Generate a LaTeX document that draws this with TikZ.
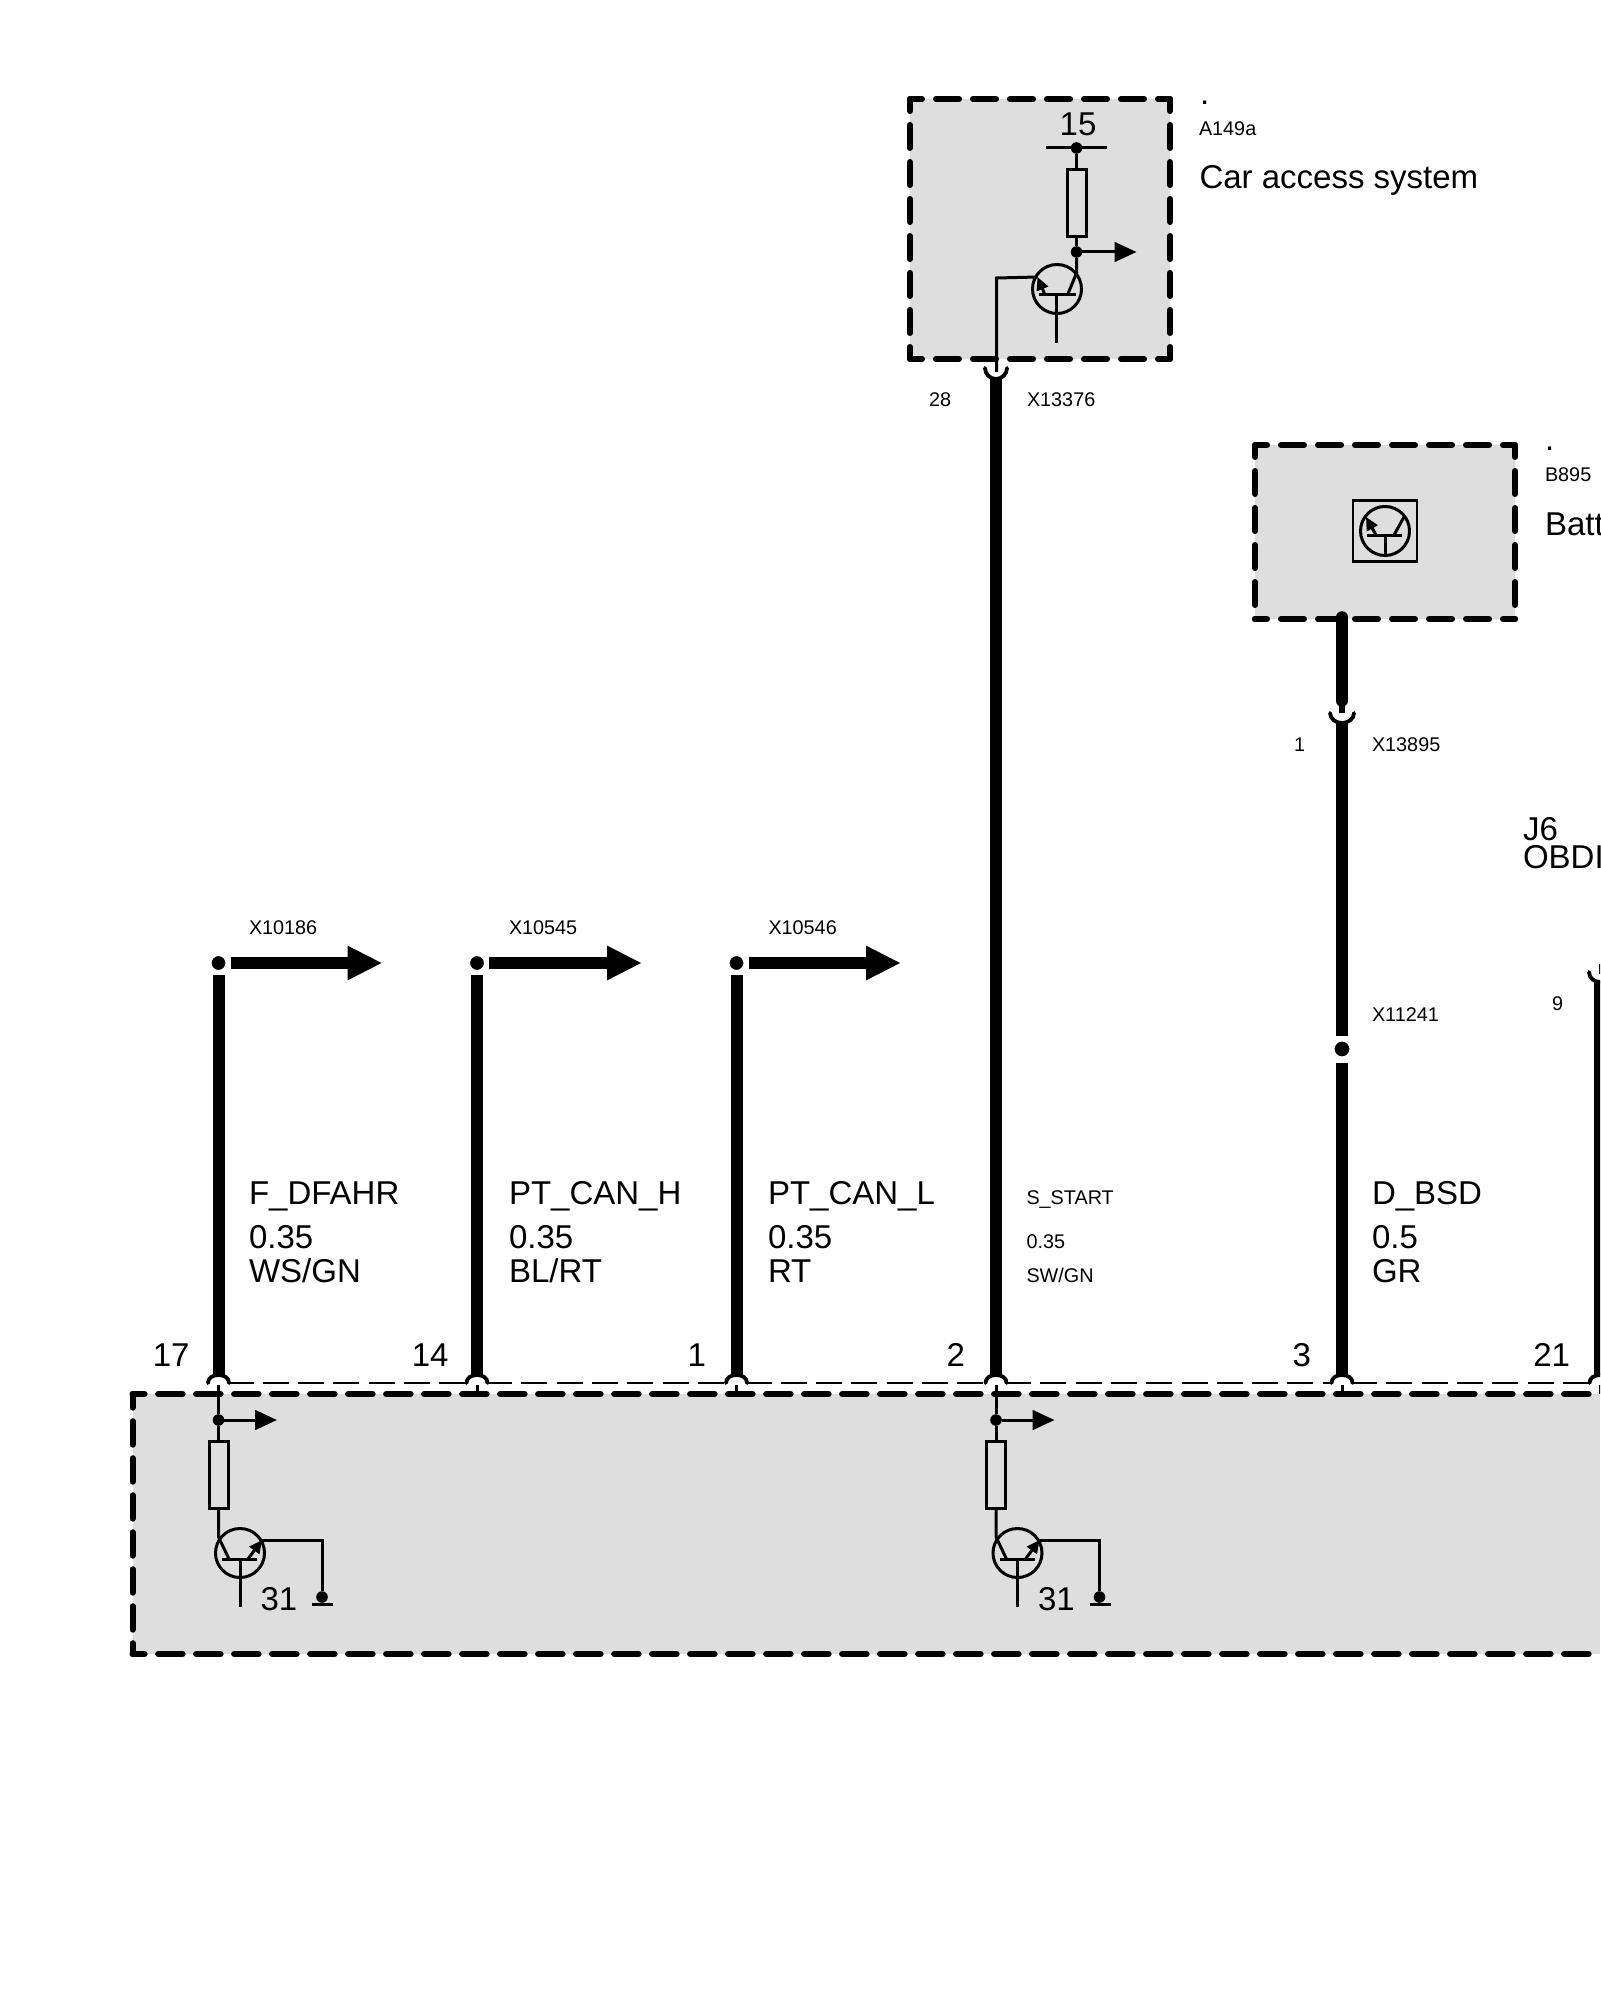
\documentclass[tikz,border=0pt]{standalone}
\usepackage{fontspec}
\setmainfont{Liberation Sans}
\usetikzlibrary{arrows.meta,calc}
\definecolor{boxgray}{HTML}{DEDEDE}
\tikzset{
  tbig/.style={inner sep=0pt,outer sep=0pt,anchor=base west,font=\fontsize{16.5}{14}\selectfont},
  tsmall/.style={inner sep=0pt,outer sep=0pt,anchor=base west,font=\fontsize{9.9}{9.9}\selectfont},
  tpin/.style={inner sep=0pt,outer sep=0pt,anchor=base east,font=\fontsize{16.5}{16.5}\selectfont},
  boxfill/.style={fill=boxgray,inner sep=0pt,outer sep=0pt,anchor=north west},
  boxline/.style={line width=3pt,line cap=round,line join=round,dash pattern=on 11.5pt off 7pt,dash phase=5.5pt},
  mainh/.style={line width=3pt,line cap=round,dash pattern=on 12.25pt off 6.75pt,dash phase=6.2pt},
  mainv/.style={line width=3pt,line cap=round,dash pattern=on 11.75pt off 6.75pt,dash phase=4.9pt},
  busline/.style={line width=1.4pt,dash pattern=on 13pt off 4.65pt,dash phase=1pt},
  thick wire/.style={line width=6pt},
  thin wire/.style={line width=1.5pt},
  cupline/.style={line width=1.9pt,line cap=round},
  junction/.style={circle,fill=black,draw=white,line width=2.5pt,minimum size=9.5pt,inner sep=0pt},
  smalldot/.style={circle,fill=black,minimum size=5.8pt,inner sep=0pt,outer sep=0pt},
  resistor/.style={rectangle,draw,line width=1.5pt,inner sep=0pt,minimum width=9.5pt,minimum height=33.5pt},
  bigarrow/.style={thick wire,-{Triangle[length=17.5pt,width=16pt]}},
  smallarrow/.style={thin wire,-{Triangle[length=11pt,width=9.8pt]}},
  emitarrow/.style={thin wire,-{Triangle[length=6.5pt,width=6pt]}},
  trcircle/.style={circle,draw,line width=1.5pt,inner sep=0pt,minimum size=24.5pt},
}
\begin{document}
\begin{tikzpicture}[x=0.5pt,y=-0.5pt]
\useasboundingbox (0,0) rectangle (1600,2000);
\clip (0,0) rectangle (1600,2000);
\fill[white] (0,0) rectangle (1600,2000);

%% ---- gray boxes
\node[boxfill,minimum width=130pt,minimum height=130pt] (boxA) at (910,99) {};
\node[boxfill,minimum width=130pt,minimum height=87pt] (boxB) at (1255,445) {};
\node[boxfill,minimum width=733.75pt,minimum height=130pt] (boxM) at (132.5,1394) {};

\draw[boxline] (boxA.north west) -- (boxA.north east);
\draw[boxline] (boxA.north west) -- (boxA.south west);
\draw[boxline] (boxA.north east) -- (boxA.south east);
\draw[boxline] (boxA.south west) -- (boxA.south east);
\draw[boxline] (boxB.north west) -- (boxB.north east);
\draw[boxline] (boxB.north west) -- (boxB.south west);
\draw[boxline] (boxB.north east) -- (boxB.south east);
\draw[boxline] (boxB.south west) -- (boxB.south east);
\draw[mainh] (boxM.north west) -- (boxM.north east);
\draw[mainh] (boxM.south west) -- (boxM.south east);
\draw[mainv] (boxM.north west) -- (boxM.south west);

%% ---- pins on the main box
\foreach \n/\x in {17/218.5,14/477,1/736.5,2/996,3/1342,21/1600}{
  \coordinate (p\n) at (\x,1383);
  \coordinate (b\n) at (\x,1394);
  \draw[cupline] (\x-10.5,1383) .. controls (\x-10.5,1378) and (\x-6,1375) .. (\x,1375)
     .. controls (\x+6,1375) and (\x+10.5,1378) .. (\x+10.5,1383);
}
\foreach \n in {14,1,3,21}{
  \draw[thin wire] ($(p\n)+(0,2)$) -- (b\n);
}
\draw[busline] ($(p17)+(11,0)$) -- ($(p14)+(-10,0)$);
\draw[busline] ($(p14)+(11,0)$) -- ($(p1)+(-10,0)$);
\draw[busline] ($(p1)+(11,0)$) -- ($(p2)+(-10,0)$);
\draw[busline] ($(p2)+(11,0)$) -- ($(p3)+(-10,0)$);
\draw[busline] ($(p3)+(11,0)$) -- ($(p21)+(-10,0)$);

%% ---- branch junctions and outgoing arrows
\node[junction] (d17) at (218.5,963) {};
\node[junction] (d14) at (477,963) {};
\node[junction] (d1) at (736.5,963) {};
\coordinate (t17) at (382.5,963);
\coordinate (t14) at (642,963);
\coordinate (t1) at (901,963);
\draw[thick wire] (d17) -- ($(p17)+(0,-8)$);
\draw[thick wire] (d14) -- ($(p14)+(0,-8)$);
\draw[thick wire] (d1) -- ($(p1)+(0,-8)$);
\draw[bigarrow] (d17) -- (t17);
\draw[bigarrow] (d14) -- (t14);
\draw[bigarrow] (d1) -- (t1);

%% ---- wire S_START with its cup
\coordinate (cA) at (996,368);
\draw[thick wire] ($(cA)+(0,10)$) -- ($(p2)+(0,-8)$);
\draw[cupline] ($(cA)+(-11,0)$) .. controls ($(cA)+(-11,6)$) and ($(cA)+(-6,11)$) .. ($(cA)+(0,11)$)
     .. controls ($(cA)+(6,11)$) and ($(cA)+(11,6)$) .. ($(cA)+(11,0)$);

%% ---- wire D_BSD with cup and splice
\coordinate (cB) at (1342,713);
\coordinate (sB) at (1342,617);
\node[junction,minimum size=10.5pt,line width=3pt] (d3) at (1342,1049) {};
\draw[thick wire,line width=5.8pt,line cap=round] (sB) -- ($(sB)+(0,84)$);
\draw[line width=2.6pt] ($(sB)+(0,84)$) -- (cB);
\draw[cupline] ($(cB)+(-12,0)$) .. controls ($(cB)+(-12,6)$) and ($(cB)+(-6,10)$) .. ($(cB)+(0,10)$)
     .. controls ($(cB)+(6,10)$) and ($(cB)+(12,6)$) .. ($(cB)+(12,0)$);
\draw[thick wire] ($(cB)+(0,10)$) -- (d3);
\draw[thick wire] (d3) -- ($(p3)+(0,-8)$);

%% ---- wire to J6
\coordinate (cJ) at (1600,972);
\draw[thick wire] ($(cJ)+(0,9)$) -- ($(p21)+(0,-8)$);
\draw[cupline] ($(cJ)+(-11,0)$) .. controls ($(cJ)+(-11,6)$) and ($(cJ)+(-6,10)$) .. ($(cJ)+(0,10)$);
\draw[thin wire] ($(cJ)+(0,-8)$) -- ($(cJ)+(0,2)$);

%% ---- A149a internals
\coordinate (barL) at (1046,148);
\coordinate (barR) at (1106.5,148);
\node[smalldot] (t15) at (1076.5,148) {};
\node[resistor] (rA) at (1076.5,203) {};
\node[smalldot] (jA) at (1076.5,252) {};
\coordinate (oA) at (1136.5,252);
\node[trcircle] (qA) at (1057,289) {};
\coordinate (qAb) at (1076.5,273);
\coordinate (qAc) at (1067.5,295);
\coordinate (qAe) at (1045,295);
\coordinate (qAm) at (1037.5,277);
\coordinate (qAg) at (1056,295);
\coordinate (qAo) at (1056,343);
\coordinate (qAl) at (1039,295);
\coordinate (qAr) at (1075.5,295);
\coordinate (wAk) at (996.5,278);
\draw[thin wire] (barL) -- (barR);
\draw[thin wire] (t15) -- (rA.north);
\draw[thin wire] (rA.south) -- (jA);
\draw[thin wire] (jA) -- (qAb) -- (qAc);
\draw[thin wire] (qAl) -- (qAr);
\draw[thin wire] (qAg) -- (qAo);
\draw[emitarrow] (qAe) -- (qAm);
\draw[thin wire] (qAm) -- (wAk) -- ($(cA)+(0.5,4)$);
\draw[smallarrow] (jA) -- (oA);

%% ---- B895 sensor icon
\node[rectangle,draw,line width=1.25pt,inner sep=0pt,minimum width=32pt,minimum height=30.5pt] (icon) at (1385,531) {};
\node[trcircle,minimum size=24.5pt] (qB) at (1385,531) {};
\coordinate (qBl) at (1367,535);
\coordinate (qBr) at (1402,535);
\coordinate (qBg) at (1385,535);
\coordinate (qBo) at (1385,556);
\coordinate (qBc) at (1394,535);
\coordinate (qBk) at (1404,517);
\coordinate (qBe) at (1376,535);
\coordinate (qBm) at (1366,517);
\draw[thin wire] (qBl) -- (qBr);
\draw[thin wire] (qBg) -- (qBo);
\draw[thin wire] (qBc) -- (qBk);
\draw[emitarrow] (qBe) -- (qBm);

%% ---- the two output stages in the main box
\foreach \n/\dx in {17/0,2/777.5}{
  \begin{scope}[xshift=\dx*0.5pt]
    \node[smalldot] (j\n) at (218.5,1420) {};
    \coordinate (o\n) at (277,1420);
    \node[resistor] (r\n) at (218.5,1475) {};
    \node[trcircle] (q\n) at (240,1553) {};
    \coordinate (qb\n) at (218.5,1537);
    \coordinate (qc\n) at (229,1559);
    \coordinate (ql\n) at (222,1559);
    \coordinate (qr\n) at (257,1559);
    \coordinate (qg\n) at (240,1559);
    \coordinate (qo\n) at (240,1607);
    \coordinate (qe\n) at (248,1559);
    \coordinate (qm\n) at (262,1540);
    \coordinate (gc\n) at (322,1540);
    \node[smalldot] (g\n) at (322,1597) {};
    \coordinate (gl\n) at (312,1604);
    \coordinate (gr\n) at (333,1604);
    \node[tbig] (n31\n) at (260.5,1610) {31};
    \draw[thin wire] ($(p\n)+(0,2)$) -- (j\n);
    \draw[smallarrow] (j\n) -- (o\n);
    \draw[thin wire] (j\n) -- (r\n.north);
    \draw[thin wire] (r\n.south) -- (qb\n) -- (qc\n);
    \draw[thin wire] (ql\n) -- (qr\n);
    \draw[thin wire] (qg\n) -- (qo\n);
    \draw[emitarrow] (qe\n) -- (qm\n);
    \draw[thin wire] (qm\n) -- (gc\n) -- (g\n);
    \draw[thin wire] (gl\n) -- (gr\n);
  \end{scope}
}

%% ---- texts
\node[tbig] (dotA) at (1200,105) {.};
\node[tsmall] (nameA) at (1199,136) {A149a};
\node[tbig] (titleA) at (1199.5,189) {Car access system};
\node[tbig,anchor=base] (n15) at (1078,136) {15};
\node[tsmall] (n28) at (929,407) {28};
\node[tsmall] (xA) at (1027,407) {X13376};

\node[tbig] (dotB) at (1545,451) {.};
\node[tsmall] (nameB) at (1545,481) {B895};
\node[tbig] (titleB) at (1545,535) {Batt};
\node[tsmall] (n1b) at (1294,751) {1};
\node[tsmall] (xB) at (1372,751) {X13895};
\node[tbig,align=left] (j6) at (1523,868) {J6\\OBDI};
\node[tsmall] (n9) at (1552,1010) {9};
\node[tsmall] (xS) at (1372,1021) {X11241};

\node[tsmall] (x1) at (249,934) {X10186};
\node[tsmall] (x2) at (509,934) {X10545};
\node[tsmall] (x3) at (768.5,934) {X10546};

\node[tbig] (l1a) at (249,1204) {F\_DFAHR};
\node[tbig] (l1b) at (249,1248) {0.35};
\node[tbig] (l1c) at (249,1282) {WS/GN};
\node[tbig] (l2a) at (509,1204) {PT\_CAN\_H};
\node[tbig] (l2b) at (509,1248) {0.35};
\node[tbig] (l2c) at (509,1282) {BL/RT};
\node[tbig] (l3a) at (768,1204) {PT\_CAN\_L};
\node[tbig] (l3b) at (768,1248) {0.35};
\node[tbig] (l3c) at (768,1282) {RT};
\node[tsmall] (l4a) at (1026.5,1204) {S\_START};
\node[tsmall] (l4b) at (1026.5,1248) {0.35};
\node[tsmall] (l4c) at (1026.5,1282) {SW/GN};
\node[tbig] (l5a) at (1372,1204) {D\_BSD};
\node[tbig] (l5b) at (1372,1248) {0.5};
\node[tbig] (l5c) at (1372,1282) {GR};

\node[tpin] (pn17) at (189.5,1366) {17};
\node[tpin] (pn14) at (448.5,1366) {14};
\node[tpin] (pn1) at (706,1366) {1};
\node[tpin] (pn2) at (965,1366) {2};
\node[tpin] (pn3) at (1311,1366) {3};
\node[tpin] (pn21) at (1570,1366) {21};
\end{tikzpicture}
\end{document}
